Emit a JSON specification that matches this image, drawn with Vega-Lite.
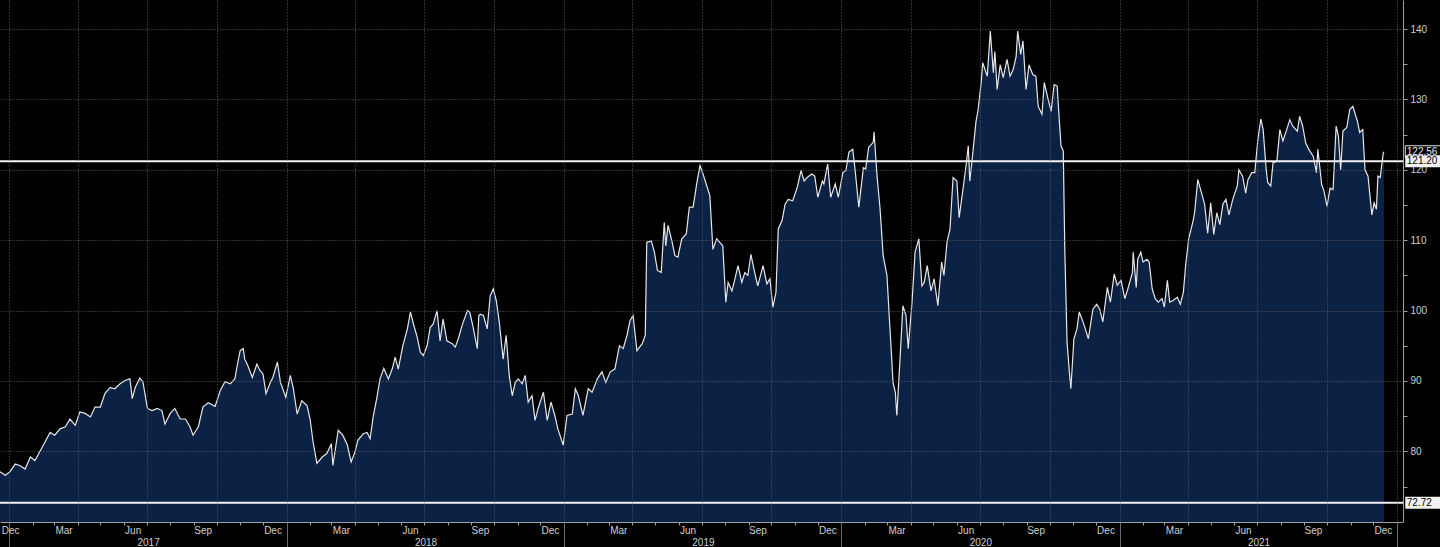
{
  "$schema": "https://vega.github.io/schema/vega-lite/v6.json",
  "width": 1403,
  "height": 522,
  "autosize": {"type": "none"},
  "padding": {"left": 0, "top": 0, "right": 37, "bottom": 25},
  "background": "#000000",
  "config": {
    "view": {"stroke": null, "fill": "#000000"},
    "axis": {
      "labelFont": "Liberation Sans",
      "labelFontSize": 10,
      "labelColor": "#cfcfcf",
      "domainColor": "#a0a0a0",
      "tickColor": "#a0a0a0",
      "gridColor": "#5e5e5e",
      "gridDash": [1, 2],
      "labelOverlap": false,
      "labelFlush": false,
      "labelBound": false,
      "title": null
    }
  },
  "datasets": {
    "px": [
      {"d":"2016-12-20","v":77.1},{"d":"2016-12-27","v":76.6},{"d":"2017-01-02","v":77.1},{"d":"2017-01-09","v":78.2},{"d":"2017-01-15","v":78.0},{"d":"2017-01-22","v":77.5},{"d":"2017-01-29","v":79.2},{"d":"2017-02-04","v":78.7},{"d":"2017-02-11","v":80.1},{"d":"2017-02-17","v":81.3},{"d":"2017-02-24","v":82.7},{"d":"2017-03-02","v":82.3},{"d":"2017-03-09","v":83.2},{"d":"2017-03-16","v":83.5},{"d":"2017-03-22","v":84.6},{"d":"2017-03-29","v":83.7},{"d":"2017-04-04","v":85.6},{"d":"2017-04-11","v":85.4},{"d":"2017-04-18","v":84.9},{"d":"2017-04-24","v":86.3},{"d":"2017-05-01","v":86.3},{"d":"2017-05-07","v":88.2},{"d":"2017-05-14","v":89.1},{"d":"2017-05-20","v":88.9},{"d":"2017-05-27","v":89.6},{"d":"2017-06-03","v":90.1},{"d":"2017-06-09","v":90.3},{"d":"2017-06-12","v":87.5},{"d":"2017-06-16","v":89.1},{"d":"2017-06-22","v":90.4},{"d":"2017-06-26","v":89.9},{"d":"2017-07-02","v":86.1},{"d":"2017-07-08","v":85.8},{"d":"2017-07-15","v":86.1},{"d":"2017-07-21","v":85.8},{"d":"2017-07-25","v":83.9},{"d":"2017-08-01","v":85.4},{"d":"2017-08-07","v":86.1},{"d":"2017-08-14","v":84.6},{"d":"2017-08-21","v":84.6},{"d":"2017-08-27","v":83.5},{"d":"2017-08-31","v":82.3},{"d":"2017-09-07","v":83.5},{"d":"2017-09-13","v":86.3},{"d":"2017-09-20","v":86.9},{"d":"2017-09-29","v":86.4},{"d":"2017-10-06","v":88.7},{"d":"2017-10-12","v":89.9},{"d":"2017-10-19","v":89.6},{"d":"2017-10-25","v":90.3},{"d":"2017-10-29","v":92.7},{"d":"2017-11-01","v":94.3},{"d":"2017-11-05","v":94.6},{"d":"2017-11-07","v":93.1},{"d":"2017-11-11","v":92.2},{"d":"2017-11-17","v":90.5},{"d":"2017-11-23","v":92.4},{"d":"2017-11-27","v":91.5},{"d":"2017-12-01","v":91.0},{"d":"2017-12-05","v":88.2},{"d":"2017-12-10","v":89.6},{"d":"2017-12-14","v":90.5},{"d":"2017-12-20","v":92.7},{"d":"2017-12-24","v":89.8},{"d":"2017-12-27","v":88.9},{"d":"2017-12-31","v":87.7},
      {"d":"2018-01-06","v":90.8},{"d":"2018-01-10","v":88.9},{"d":"2018-01-15","v":85.3},{"d":"2018-01-21","v":87.2},{"d":"2018-01-28","v":86.5},{"d":"2018-02-01","v":84.6},{"d":"2018-02-05","v":81.3},{"d":"2018-02-10","v":78.3},{"d":"2018-02-17","v":79.2},{"d":"2018-02-23","v":79.7},{"d":"2018-03-01","v":81.1},{"d":"2018-03-03","v":78.0},{"d":"2018-03-10","v":83.0},{"d":"2018-03-16","v":82.3},{"d":"2018-03-22","v":80.9},{"d":"2018-03-27","v":78.5},{"d":"2018-04-01","v":79.9},{"d":"2018-04-05","v":81.6},{"d":"2018-04-12","v":82.5},{"d":"2018-04-17","v":82.7},{"d":"2018-04-21","v":81.8},{"d":"2018-04-25","v":84.9},{"d":"2018-04-30","v":87.7},{"d":"2018-05-04","v":90.3},{"d":"2018-05-09","v":91.8},{"d":"2018-05-15","v":90.3},{"d":"2018-05-20","v":91.7},{"d":"2018-05-24","v":93.4},{"d":"2018-05-28","v":91.7},{"d":"2018-06-03","v":95.0},{"d":"2018-06-09","v":97.4},{"d":"2018-06-13","v":99.8},{"d":"2018-06-17","v":98.1},{"d":"2018-06-22","v":96.2},{"d":"2018-06-26","v":94.1},{"d":"2018-06-30","v":93.6},{"d":"2018-07-05","v":95.0},{"d":"2018-07-09","v":97.6},{"d":"2018-07-13","v":98.1},{"d":"2018-07-18","v":100.0},{"d":"2018-07-22","v":95.7},{"d":"2018-07-26","v":98.8},{"d":"2018-07-31","v":95.7},{"d":"2018-08-07","v":95.3},{"d":"2018-08-11","v":94.8},{"d":"2018-08-15","v":96.0},{"d":"2018-08-20","v":97.9},{"d":"2018-08-27","v":100.0},{"d":"2018-08-30","v":99.8},{"d":"2018-09-03","v":97.9},{"d":"2018-09-09","v":94.6},{"d":"2018-09-11","v":99.3},{"d":"2018-09-13","v":99.5},{"d":"2018-09-17","v":99.3},{"d":"2018-09-22","v":97.4},{"d":"2018-09-26","v":102.1},{"d":"2018-09-30","v":103.1},{"d":"2018-10-04","v":101.4},{"d":"2018-10-08","v":98.3},{"d":"2018-10-13","v":93.1},{"d":"2018-10-17","v":96.5},{"d":"2018-10-21","v":90.8},{"d":"2018-10-25","v":87.9},{"d":"2018-10-29","v":89.8},{"d":"2018-11-02","v":90.3},{"d":"2018-11-07","v":89.6},{"d":"2018-11-11","v":90.8},{"d":"2018-11-15","v":87.0},{"d":"2018-11-20","v":87.9},{"d":"2018-11-24","v":84.4},{"d":"2018-11-28","v":86.1},{"d":"2018-12-05","v":88.4},{"d":"2018-12-10","v":84.4},{"d":"2018-12-15","v":87.0},{"d":"2018-12-20","v":85.1},{"d":"2018-12-24","v":83.2},{"d":"2018-12-31","v":80.9},
      {"d":"2019-01-05","v":85.1},{"d":"2019-01-12","v":85.3},{"d":"2019-01-16","v":88.9},{"d":"2019-01-20","v":87.9},{"d":"2019-01-26","v":85.1},{"d":"2019-02-02","v":88.9},{"d":"2019-02-07","v":88.4},{"d":"2019-02-14","v":90.3},{"d":"2019-02-20","v":91.3},{"d":"2019-02-25","v":89.8},{"d":"2019-03-03","v":91.3},{"d":"2019-03-09","v":91.7},{"d":"2019-03-15","v":95.0},{"d":"2019-03-20","v":94.6},{"d":"2019-03-25","v":96.5},{"d":"2019-03-29","v":98.6},{"d":"2019-04-02","v":99.3},{"d":"2019-04-07","v":94.3},{"d":"2019-04-14","v":95.3},{"d":"2019-04-18","v":96.5},{"d":"2019-04-20","v":109.7},{"d":"2019-04-26","v":109.9},{"d":"2019-04-30","v":108.3},{"d":"2019-05-04","v":105.7},{"d":"2019-05-09","v":105.4},{"d":"2019-05-13","v":112.5},{"d":"2019-05-15","v":109.2},{"d":"2019-05-18","v":112.1},{"d":"2019-05-23","v":109.9},{"d":"2019-05-27","v":107.8},{"d":"2019-05-31","v":107.6},{"d":"2019-06-05","v":110.2},{"d":"2019-06-11","v":110.9},{"d":"2019-06-15","v":114.7},{"d":"2019-06-20","v":114.7},{"d":"2019-06-25","v":118.2},{"d":"2019-06-29","v":120.6},{"d":"2019-07-03","v":119.4},{"d":"2019-07-08","v":117.7},{"d":"2019-07-12","v":116.3},{"d":"2019-07-16","v":108.7},{"d":"2019-07-21","v":110.2},{"d":"2019-07-25","v":109.7},{"d":"2019-07-29","v":109.2},{"d":"2019-08-02","v":101.2},{"d":"2019-08-05","v":104.0},{"d":"2019-08-10","v":102.8},{"d":"2019-08-14","v":104.5},{"d":"2019-08-18","v":106.4},{"d":"2019-08-23","v":104.0},{"d":"2019-08-27","v":105.4},{"d":"2019-08-31","v":105.0},{"d":"2019-09-04","v":108.0},{"d":"2019-09-08","v":105.9},{"d":"2019-09-13","v":103.5},{"d":"2019-09-20","v":106.4},{"d":"2019-09-25","v":103.8},{"d":"2019-09-29","v":104.5},{"d":"2019-10-03","v":100.5},{"d":"2019-10-07","v":102.6},{"d":"2019-10-10","v":111.6},{"d":"2019-10-15","v":112.8},{"d":"2019-10-19","v":115.1},{"d":"2019-10-23","v":115.8},{"d":"2019-10-29","v":115.6},{"d":"2019-11-04","v":117.5},{"d":"2019-11-09","v":119.9},{"d":"2019-11-13","v":118.4},{"d":"2019-11-17","v":118.9},{"d":"2019-11-23","v":119.4},{"d":"2019-11-27","v":119.1},{"d":"2019-12-01","v":116.1},{"d":"2019-12-07","v":118.4},{"d":"2019-12-09","v":118.0},{"d":"2019-12-14","v":120.8},{"d":"2019-12-18","v":116.1},{"d":"2019-12-24","v":118.0},{"d":"2019-12-28","v":116.1},
      {"d":"2020-01-03","v":119.6},{"d":"2020-01-07","v":119.9},{"d":"2020-01-11","v":122.5},{"d":"2020-01-16","v":122.9},{"d":"2020-01-19","v":120.1},{"d":"2020-01-24","v":114.7},{"d":"2020-01-30","v":120.3},{"d":"2020-02-02","v":120.1},{"d":"2020-02-06","v":123.2},{"d":"2020-02-12","v":123.9},{"d":"2020-02-13","v":125.4},{"d":"2020-02-17","v":119.1},{"d":"2020-02-21","v":114.4},{"d":"2020-02-25","v":107.8},{"d":"2020-03-01","v":105.0},{"d":"2020-03-05","v":97.4},{"d":"2020-03-09","v":89.8},{"d":"2020-03-12","v":88.4},{"d":"2020-03-14","v":85.1},{"d":"2020-03-18","v":92.7},{"d":"2020-03-22","v":100.7},{"d":"2020-03-26","v":99.3},{"d":"2020-03-29","v":94.6},{"d":"2020-04-03","v":101.2},{"d":"2020-04-07","v":108.3},{"d":"2020-04-12","v":110.2},{"d":"2020-04-16","v":103.5},{"d":"2020-04-19","v":104.0},{"d":"2020-04-23","v":106.4},{"d":"2020-04-28","v":102.8},{"d":"2020-05-02","v":104.5},{"d":"2020-05-07","v":100.7},{"d":"2020-05-12","v":106.9},{"d":"2020-05-15","v":105.0},{"d":"2020-05-19","v":109.7},{"d":"2020-05-23","v":111.6},{"d":"2020-05-27","v":118.9},{"d":"2020-06-01","v":118.4},{"d":"2020-06-04","v":113.2},{"d":"2020-06-09","v":117.2},{"d":"2020-06-13","v":120.5},{"d":"2020-06-16","v":123.4},{"d":"2020-06-18","v":118.4},{"d":"2020-06-22","v":122.4},{"d":"2020-06-26","v":126.7},{"d":"2020-06-29","v":128.6},{"d":"2020-07-03","v":132.4},{"d":"2020-07-05","v":135.2},{"d":"2020-07-11","v":133.3},{"d":"2020-07-15","v":139.7},{"d":"2020-07-19","v":133.8},{"d":"2020-07-21","v":136.8},{"d":"2020-07-24","v":131.4},{"d":"2020-07-28","v":134.9},{"d":"2020-08-01","v":133.1},{"d":"2020-08-06","v":135.7},{"d":"2020-08-10","v":133.3},{"d":"2020-08-14","v":134.2},{"d":"2020-08-18","v":136.1},{"d":"2020-08-20","v":139.7},{"d":"2020-08-24","v":136.4},{"d":"2020-08-27","v":138.3},{"d":"2020-08-31","v":131.4},{"d":"2020-09-04","v":134.9},{"d":"2020-09-09","v":133.5},{"d":"2020-09-13","v":133.3},{"d":"2020-09-16","v":129.0},{"d":"2020-09-21","v":127.9},{"d":"2020-09-24","v":132.4},{"d":"2020-09-28","v":130.5},{"d":"2020-10-03","v":128.3},{"d":"2020-10-07","v":132.1},{"d":"2020-10-11","v":131.9},{"d":"2020-10-13","v":128.3},{"d":"2020-10-16","v":123.4},{"d":"2020-10-19","v":122.7},{"d":"2020-10-21","v":108.7},{"d":"2020-10-24","v":95.5},{"d":"2020-10-27","v":91.3},{"d":"2020-10-29","v":88.9},{"d":"2020-11-02","v":96.0},{"d":"2020-11-06","v":97.4},{"d":"2020-11-09","v":99.8},{"d":"2020-11-14","v":98.4},{"d":"2020-11-17","v":97.4},{"d":"2020-11-21","v":96.0},{"d":"2020-11-25","v":98.8},{"d":"2020-11-27","v":100.2},{"d":"2020-12-02","v":100.9},{"d":"2020-12-06","v":100.2},{"d":"2020-12-10","v":98.4},{"d":"2020-12-16","v":103.3},{"d":"2020-12-20","v":101.2},{"d":"2020-12-25","v":105.2},{"d":"2020-12-29","v":103.6},
      {"d":"2021-01-03","v":104.3},{"d":"2021-01-08","v":101.7},{"d":"2021-01-12","v":103.1},{"d":"2021-01-18","v":105.4},{"d":"2021-01-19","v":108.3},{"d":"2021-01-23","v":103.3},{"d":"2021-01-25","v":107.3},{"d":"2021-01-29","v":108.3},{"d":"2021-02-01","v":106.9},{"d":"2021-02-06","v":107.3},{"d":"2021-02-09","v":106.9},{"d":"2021-02-13","v":103.1},{"d":"2021-02-17","v":101.7},{"d":"2021-02-21","v":101.2},{"d":"2021-02-26","v":101.7},{"d":"2021-03-01","v":100.5},{"d":"2021-03-05","v":104.3},{"d":"2021-03-08","v":101.2},{"d":"2021-03-12","v":101.4},{"d":"2021-03-18","v":101.9},{"d":"2021-03-22","v":100.9},{"d":"2021-03-26","v":102.6},{"d":"2021-03-29","v":106.4},{"d":"2021-04-02","v":110.2},{"d":"2021-04-08","v":112.8},{"d":"2021-04-10","v":114.1},{"d":"2021-04-14","v":118.6},{"d":"2021-04-20","v":116.3},{"d":"2021-04-23","v":115.1},{"d":"2021-04-27","v":111.0},{"d":"2021-05-01","v":115.3},{"d":"2021-05-05","v":110.8},{"d":"2021-05-09","v":113.9},{"d":"2021-05-13","v":112.2},{"d":"2021-05-17","v":115.1},{"d":"2021-05-21","v":115.8},{"d":"2021-05-25","v":113.6},{"d":"2021-05-30","v":115.8},{"d":"2021-06-05","v":117.7},{"d":"2021-06-07","v":120.0},{"d":"2021-06-12","v":119.1},{"d":"2021-06-16","v":116.7},{"d":"2021-06-19","v":118.6},{"d":"2021-06-24","v":119.6},{"d":"2021-06-28","v":119.6},{"d":"2021-07-02","v":124.3},{"d":"2021-07-06","v":127.2},{"d":"2021-07-09","v":125.7},{"d":"2021-07-13","v":120.0},{"d":"2021-07-15","v":118.2},{"d":"2021-07-19","v":117.7},{"d":"2021-07-22","v":121.0},{"d":"2021-07-27","v":121.2},{"d":"2021-07-31","v":125.7},{"d":"2021-08-04","v":124.1},{"d":"2021-08-09","v":125.7},{"d":"2021-08-13","v":127.1},{"d":"2021-08-17","v":126.2},{"d":"2021-08-23","v":125.5},{"d":"2021-08-26","v":127.6},{"d":"2021-08-30","v":126.2},{"d":"2021-09-03","v":123.8},{"d":"2021-09-07","v":122.9},{"d":"2021-09-13","v":121.9},{"d":"2021-09-17","v":119.6},{"d":"2021-09-19","v":122.9},{"d":"2021-09-24","v":117.9},{"d":"2021-09-27","v":117.0},{"d":"2021-10-01","v":114.8},{"d":"2021-10-05","v":117.4},{"d":"2021-10-09","v":117.2},{"d":"2021-10-13","v":126.2},{"d":"2021-10-16","v":124.8},{"d":"2021-10-19","v":120.0},{"d":"2021-10-22","v":125.5},{"d":"2021-10-27","v":126.0},{"d":"2021-10-31","v":128.6},{"d":"2021-11-04","v":129.0},{"d":"2021-11-10","v":126.9},{"d":"2021-11-13","v":125.3},{"d":"2021-11-17","v":125.7},{"d":"2021-11-20","v":120.0},{"d":"2021-11-24","v":119.1},{"d":"2021-11-27","v":115.8},{"d":"2021-11-29","v":113.6},{"d":"2021-12-02","v":115.3},{"d":"2021-12-05","v":114.4},{"d":"2021-12-07","v":119.1},{"d":"2021-12-10","v":118.9},{"d":"2021-12-14","v":122.4},{"d":"2021-12-15","v":122.56}
    ]
  },
  "resolve": {"axis": {"x": "independent", "y": "independent"}},
  "layer": [
    {
      "data": {"name": "px"},
      "mark": {"type": "area", "color": "#0b2245", "clip": true},
      "encoding": {
        "x": {
          "field": "d", "type": "temporal",
          "scale": {"type": "utc", "nice": false, "domain": [{"year": 2016, "month": 12, "date": 20, "utc": true}, {"year": 2022, "month": 1, "date": 9, "utc": true}]},
          "axis": {
            "orient": "bottom", "zindex": 1,
            "tickCount": {"interval": "month", "step": 3},
            "grid": true, "ticks": false, "tickSize": 0, "labelPadding": 3,
            "labelExpr": "utcFormat(datum.value - 864e5, '%b')",
            "labelOffset": {"condition": {"test": "datum.value < 1483300000000", "value": 1}, "value": -14},
            "domain": true
          }
        },
        "y": {
          "field": "v", "type": "quantitative",
          "scale": {"domain": [69.97, 144.12], "zero": false, "nice": false},
          "axis": {
            "orient": "right",
            "values": [75, 80, 85, 90, 95, 100, 105, 110, 115, 120, 125, 130, 135, 140],
            "labelExpr": "datum.value % 10 === 0 ? datum.label : ''",
            "grid": false, "tickSize": 4, "labelPadding": 3, "domain": true
          }
        }
      }
    },
    {
      "data": {"name": "px"},
      "mark": {"type": "line", "color": "#e6e6e6", "strokeWidth": 1.2, "clip": true},
      "encoding": {
        "x": {
          "field": "d", "type": "temporal",
          "scale": {"type": "utc", "nice": false, "domain": [{"year": 2016, "month": 12, "date": 20, "utc": true}, {"year": 2022, "month": 1, "date": 9, "utc": true}]},
          "axis": {
            "orient": "bottom",
            "tickCount": {"interval": "month", "step": 1},
            "grid": false, "labels": false, "ticks": true, "tickSize": 3, "domain": false
          }
        },
        "y": {
          "field": "v", "type": "quantitative",
          "scale": {"domain": [69.97, 144.12], "zero": false, "nice": false},
          "axis": {
            "orient": "right", "zindex": 1,
            "values": [80, 90, 100, 110, 120, 130, 140],
            "grid": true, "labels": false, "ticks": false, "domain": false
          }
        }
      }
    },
    {
      "data": {"name": "px"},
      "mark": {"type": "line", "strokeOpacity": 0, "clip": true},
      "encoding": {
        "x": {
          "field": "d", "type": "temporal",
          "scale": {"type": "utc", "nice": false, "domain": [{"year": 2016, "month": 12, "date": 20, "utc": true}, {"year": 2022, "month": 1, "date": 9, "utc": true}]},
          "axis": {
            "orient": "bottom",
            "tickCount": {"interval": "year", "step": 1},
            "grid": false, "ticks": true, "tickSize": 25, "tickColor": "#6a6a6a",
            "labelPadding": -10, "labelOffset": 139,
            "labelExpr": "utcFormat(datum.value, '%Y') === '2022' ? '' : utcFormat(datum.value, '%Y')",
            "domain": false
          }
        },
        "y": {"field": "v", "type": "quantitative", "axis": null}
      }
    },
    {
      "data": {"values": [{"v": 121.2}, {"v": 72.72}]},
      "mark": {"type": "rule", "color": "#f2f2f2", "strokeWidth": 2},
      "encoding": {
        "y": {"field": "v", "type": "quantitative", "axis": null}
      }
    },
    {
      "data": {"values": [{"v": 122.56, "t": "122.56"}]},
      "layer": [
        {
          "mark": {"type": "rect", "fill": "#000000", "stroke": "#e0e0e0", "strokeWidth": 1, "height": 12, "clip": false},
          "encoding": {
            "x": {"datum": {"year": 2022, "month": 1, "date": 12, "utc": true}, "type": "temporal", "axis": null},
            "x2": {"datum": {"year": 2022, "month": 3, "date": 10, "utc": true}},
            "y": {"field": "v", "type": "quantitative", "axis": null}
          }
        },
        {
          "mark": {"type": "text", "color": "#e6e6e6", "font": "Liberation Sans", "fontSize": 10, "align": "left", "baseline": "middle", "clip": false},
          "encoding": {
            "x": {"datum": {"year": 2022, "month": 1, "date": 14, "utc": true}, "type": "temporal", "axis": null},
            "y": {"field": "v", "type": "quantitative", "axis": null},
            "text": {"field": "t"}
          }
        }
      ]
    },
    {
      "data": {"values": [{"v": 121.2, "t": "121.20"}, {"v": 72.72, "t": "72.72"}]},
      "layer": [
        {
          "mark": {"type": "rect", "fill": "#f2f2f2", "height": 12, "clip": false},
          "encoding": {
            "x": {"datum": {"year": 2022, "month": 1, "date": 12, "utc": true}, "type": "temporal", "axis": null},
            "x2": {"datum": {"year": 2022, "month": 3, "date": 10, "utc": true}},
            "y": {"field": "v", "type": "quantitative", "axis": null}
          }
        },
        {
          "mark": {"type": "text", "color": "#000000", "font": "Liberation Sans", "fontSize": 10, "align": "left", "baseline": "middle", "clip": false},
          "encoding": {
            "x": {"datum": {"year": 2022, "month": 1, "date": 14, "utc": true}, "type": "temporal", "axis": null},
            "y": {"field": "v", "type": "quantitative", "axis": null},
            "text": {"field": "t"}
          }
        }
      ]
    }
  ]
}
